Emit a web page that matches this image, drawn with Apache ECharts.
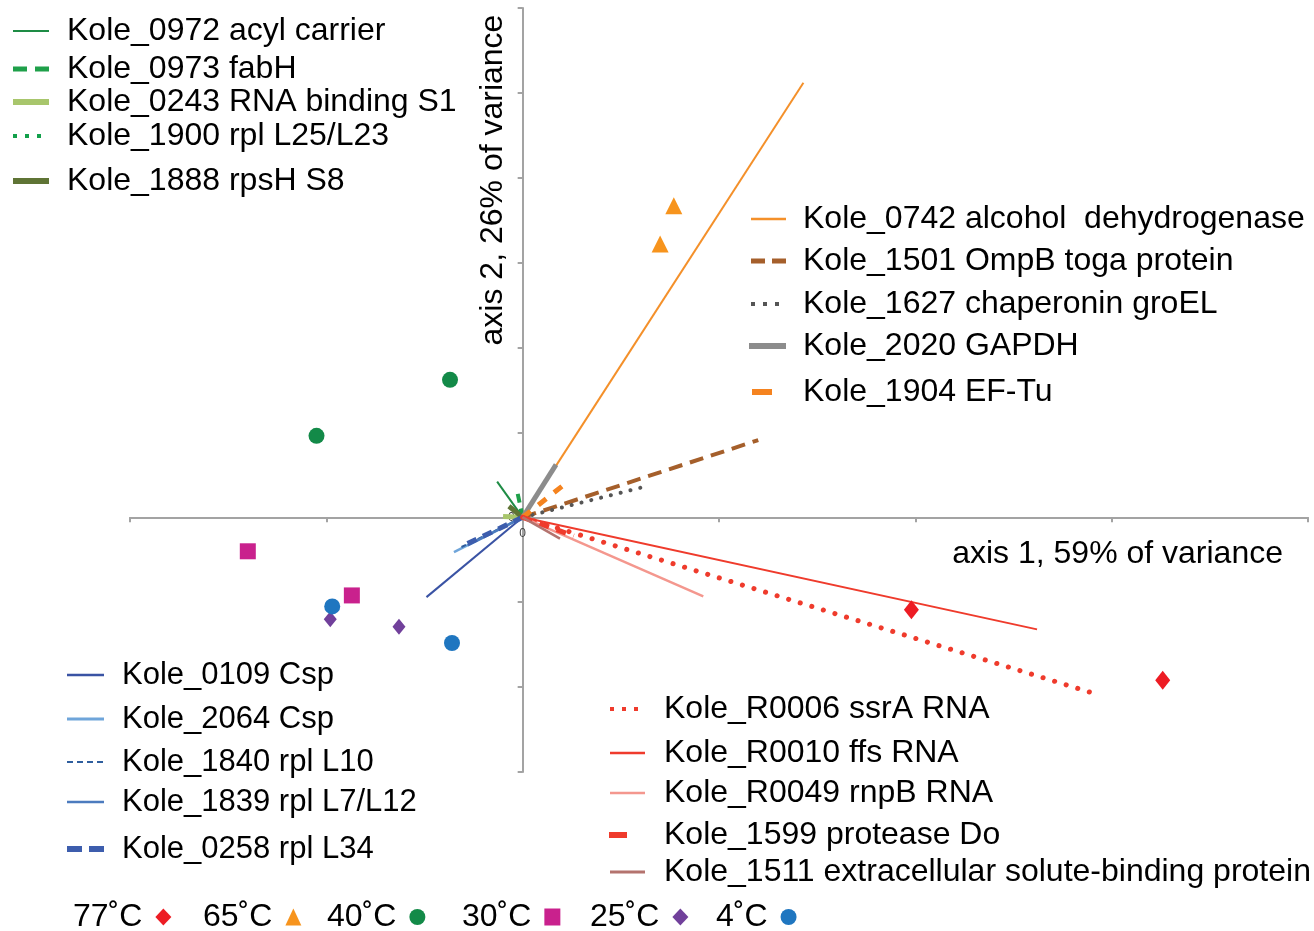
<!DOCTYPE html>
<html><head><meta charset="utf-8">
<script src="https://cdn.jsdelivr.net/npm/echarts@6/dist/echarts.min.js"></script>
<style>html,body{margin:0;padding:0;background:#fff}#c{width:1314px;height:931px}</style>
</head><body><div id="c"></div>
<script>
// ---- data ----
const vectorNames = [
  'Kole_0972 acyl carrier', 'Kole_0973 fabH', 'Kole_0243 RNA binding S1', 'Kole_1900 rpl L25/L23', 'Kole_1888 rpsH S8',
  'Kole_0742 alcohol  dehydrogenase', 'Kole_1501 OmpB toga protein', 'Kole_1627 chaperonin groEL', 'Kole_2020 GAPDH', 'Kole_1904 EF-Tu',
  'Kole_0109 Csp', 'Kole_2064 Csp', 'Kole_1840 rpl L10', 'Kole_1839 rpl L7/L12', 'Kole_0258 rpl L34',
  'Kole_R0006 ssrA RNA', 'Kole_R0010 ffs RNA', 'Kole_R0049 rnpB RNA', 'Kole_1599 protease Do', 'Kole_1511 extracellular solute-binding protein'
];
const vectorX = [-0.13, -0.03, -0.10, -0.02, -0.07, 1.43, 1.20, 0.62, 0.17, 0.23, -0.49, -0.35, -0.33, -0.28, -0.31, 2.89, 2.62, 0.92, 0.26, 0.19];
const vectorY = [0.42, 0.33, 0.01, 0.07, 0.13, 5.12, 0.91, 0.36, 0.62, 0.42, -0.94, -0.41, -0.37, -0.33, -0.34, -2.06, -1.32, -0.93, -0.22, -0.25];

const tempNames = ['77˚C', '65˚C', '40˚C', '30˚C', '25˚C', '4˚C'];
const tempX = [[1.98, 3.26], [0.77, 0.70], [-0.37, -1.05], [-1.40, -0.87], [-0.98, -0.63], [-0.97, -0.36]];
const tempY = [[-1.09, -1.92], [3.67, 3.22], [1.62, 0.96], [-0.40, -0.92], [-1.20, -1.29], [-1.05, -1.48]];

const xAxisName = 'axis 1, 59% of variance';
const yAxisName = 'axis 2, 26% of variance';
const X_MIN = -2, X_MAX = 4, Y_MIN = -3, Y_MAX = 6;

// ---- styles ----
const vectorStyles = [
  {color: '#1E8C45', width: 2},
  {color: '#1FA04A', width: 4, type: [9, 6]},
  {color: '#A8C66C', width: 5},
  {color: '#12A04B', width: 3, type: [0.1, 7], cap: 'round'},
  {color: '#5F7435', width: 5},
  {color: '#F4902A', width: 2},
  {color: '#A55F2B', width: 4, type: [14, 8]},
  {color: '#555555', width: 4, type: [0.1, 10], cap: 'round'},
  {color: '#8C8C8C', width: 5},
  {color: '#F5831F', width: 5, type: [10, 10]},
  {color: '#3A53A4', width: 2},
  {color: '#6FA5DA', width: 2.5},
  {color: '#2F5E9E', width: 2, type: [5, 4]},
  {color: '#4C7BBE', width: 2.5},
  {color: '#3D5DAD', width: 5, type: [10, 7]},
  {color: '#EF3B2C', width: 5, type: [0.1, 12], cap: 'round'},
  {color: '#EF3B2C', width: 2},
  {color: '#F4978E', width: 2.5},
  {color: '#EF3B2C', width: 5, type: [10, 8]},
  {color: '#B4736E', width: 2.5}
];
// legend icon line patterns (legend swatches are drawn with their own dash rhythm)
const vectorLegendStyles = [
  {width: 2}, {width: 5, type: [14, 8]}, {width: 6}, {width: 4, type: [4, 8]}, {width: 6},
  {width: 2.5}, {width: 5, type: [14, 7]}, {width: 4, type: [4, 8]}, {width: 6}, {width: 6},
  {width: 2.5}, {width: 3}, {width: 2, type: [6, 4]}, {width: 2.5}, {width: 6, type: [15, 7]},
  {width: 4, type: [4, 8]}, {width: 2.5}, {width: 2.5}, {width: 6}, {width: 3}
];
const tempStyles = [
  {color: '#ED1C24', symbol: 'diamond', size: [15, 19]},
  {color: '#F7941D', symbol: 'triangle', size: [17, 17]},
  {color: '#138A48', symbol: 'circle', size: 16},
  {color: '#C9218D', symbol: 'rect', size: [16, 16]},
  {color: '#71409B', symbol: 'diamond', size: [13, 16]},
  {color: '#1F76C0', symbol: 'circle', size: 16}
];
// legend layout: [iconLeft, centerY, iconWidth, textStart, fontSize]
const vectorLegendLayout = [
  [12, 31, 36, 67, 32], [12, 69, 36, 67, 32], [12, 102, 36, 67, 32], [12, 136, 36, 67, 32], [12, 181, 36, 67, 32],
  [750, 219, 35, 803, 32], [750, 261, 35, 803, 32], [750, 304, 35, 803, 32], [748, 346, 37, 803, 32], [751, 392, 20, 803, 32],
  [66, 675, 37, 122, 31], [66, 719, 37, 122, 31], [66, 762, 37, 122, 31], [66, 802, 37, 122, 31], [66, 849, 37, 122, 31],
  [609, 709, 35, 664, 32], [609, 753, 35, 664, 32], [609, 793, 35, 664, 32], [608, 835, 18, 664, 32], [609, 872, 35, 664, 32]
];
const tempLegendLeft = [73, 203, 327, 462, 590, 716];

const FONT = "'Liberation Sans', Arial, sans-serif";
const GRID = {left: 130, right: 6, top: 8, bottom: 159};
const W = 1314, H = 931;
const gridW = W - GRID.left - GRID.right, gridH = H - GRID.top - GRID.bottom;
// place the axes through the origin (data value 0)
const xAxisOffset = -gridH * (0 - Y_MIN) / (Y_MAX - Y_MIN);
const yAxisOffset = -gridW * (0 - X_MIN) / (X_MAX - X_MIN);

const series = [];
vectorNames.forEach((n, i) => {
  const s = vectorStyles[i];
  series.push({
    name: n, type: 'line', symbol: 'none', silent: true, animation: false, z: 2,
    data: [[0, 0], [vectorX[i], vectorY[i]]],
    lineStyle: {color: s.color, width: s.width, type: s.type || 'solid', cap: s.cap || 'butt'},
    itemStyle: {color: s.color}
  });
});
tempNames.forEach((n, i) => {
  const s = tempStyles[i];
  series.push({
    name: n, type: 'scatter', symbol: s.symbol, symbolSize: s.size, animation: false, z: 5,
    data: tempX[i].map((x, k) => [x, tempY[i][k]]),
    itemStyle: {color: s.color, opacity: 1}
  });
});

const legends = [];
vectorNames.forEach((n, i) => {
  const L = vectorLegendLayout[i];
  const s = vectorStyles[i];
  const ls = vectorLegendStyles[i];
  const lh = Math.round(L[4] * 1.15);
  const strokeShift = ls.width / 2 - 1; // thicker swatches widen the legend's bounding box
  legends.push({
    data: [n], selectedMode: false, padding: 0,
    left: L[0] - strokeShift, top: L[1] - lh / 2,
    itemWidth: L[2], itemHeight: 12,
    itemStyle: {opacity: 0},
    lineStyle: {width: ls.width, type: ls.type || 'solid', cap: 'butt', color: s.color},
    textStyle: {fontSize: L[4], fontFamily: FONT, color: '#000', lineHeight: lh,
      padding: [0, 0, 0, L[3] - L[0] - L[2] - 6]}
  });
});
tempNames.forEach((n, i) => {
  legends.push({
    data: [n], selectedMode: false, padding: 0, align: 'right',
    left: tempLegendLeft[i], top: 917 - 18,
    itemWidth: 16, itemHeight: 17,
    textStyle: {fontSize: 32, fontFamily: FONT, color: '#000', lineHeight: 36, padding: [0, 8, 0, 0]}
  });
});

const axisGray = '#A3A3A3';
const chart = echarts.init(document.getElementById('c'), null, {renderer: 'canvas'});
chart.setOption({
  backgroundColor: '#fff',
  animation: false,
  textStyle: {fontFamily: FONT},
  grid: Object.assign({containLabel: false}, GRID),
  xAxis: {
    type: 'value', min: X_MIN, max: X_MAX, interval: 1, position: 'bottom', offset: xAxisOffset,
    axisLine: {onZero: false, lineStyle: {color: axisGray, width: 2}},
    axisTick: {show: true, length: 5, lineStyle: {color: axisGray, width: 2}},
    splitLine: {show: false},
    axisLabel: {formatter: v => (v === 0 ? '0' : ''), color: '#444', fontSize: 12, margin: 10},
    name: xAxisName, nameLocation: 'end', nameGap: -25,
    nameTextStyle: {fontSize: 32, color: '#000', align: 'right', verticalAlign: 'top', padding: [21, 0, 0, 0]}
  },
  yAxis: {
    type: 'value', min: Y_MIN, max: Y_MAX, interval: 1, position: 'left', offset: yAxisOffset,
    axisLine: {onZero: false, lineStyle: {color: axisGray, width: 2}},
    axisTick: {show: true, length: 5, lineStyle: {color: axisGray, width: 2}},
    splitLine: {show: false},
    axisLabel: {formatter: v => (v === 0 ? '0' : ''), color: '#444', fontSize: 12, margin: 8}
  },
  graphic: [{
    type: 'text', x: 493, y: 180, rotation: Math.PI / 2,
    style: {text: yAxisName, font: '32px ' + FONT, fill: '#000', align: 'center', verticalAlign: 'middle'}
  }],
  legend: legends,
  series: series
});
</script></body></html>
